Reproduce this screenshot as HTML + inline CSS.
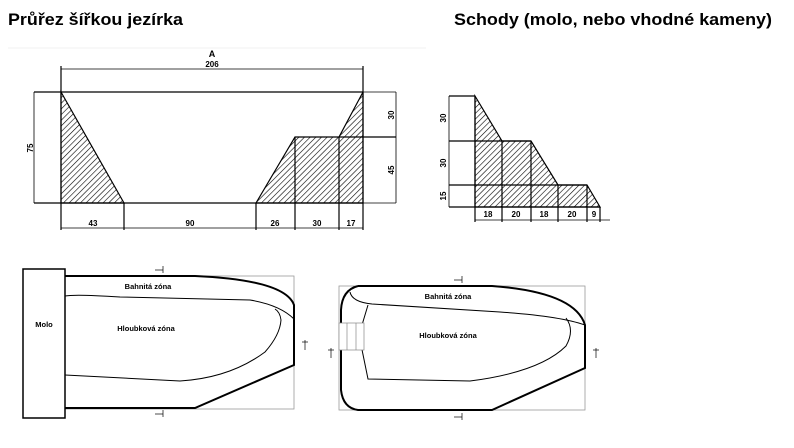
<!DOCTYPE html>
<html><head><meta charset="utf-8"><style>
html,body{margin:0;padding:0;background:#fff;width:794px;height:448px;overflow:hidden}
svg{display:block}
text{font-family:"Liberation Sans",sans-serif}
</style></head><body>
<svg width="794" height="448" viewBox="0 0 794 448" xmlns="http://www.w3.org/2000/svg">
<defs>
<pattern id="h" patternUnits="userSpaceOnUse" width="4" height="4" patternTransform="rotate(45)">
<line x1="0" y1="0" x2="0" y2="4" stroke="#000" stroke-width="1.2"/>
</pattern>
</defs>
<text x="8" y="25" font-size="17" font-weight="bold" textLength="175" lengthAdjust="spacingAndGlyphs">Průřez šířkou jezírka</text>
<text x="454" y="25" font-size="17" font-weight="bold" textLength="318" lengthAdjust="spacingAndGlyphs">Schody (molo, nebo vhodné kameny)</text>
<line x1="8" y1="48" x2="426" y2="48" stroke="#f0f0f0" stroke-width="1"/>

<!-- cross section -->
<g stroke="#000" stroke-width="1.2" fill="none">
<polygon points="61,92 61,203 124,203" fill="url(#h)"/>
<polygon points="256,203 295,137 339,137 363,92 363,203" fill="url(#h)"/>
<line x1="61" y1="92" x2="363" y2="92"/>
<line x1="34" y1="92" x2="61" y2="92"/>
<line x1="34" y1="203" x2="363" y2="203"/>
<line x1="339" y1="137" x2="396" y2="137"/>
<line x1="363" y1="92" x2="396" y2="92" stroke-width="0.7"/>
<line x1="363" y1="203" x2="396" y2="203" stroke-width="0.7"/>
<line x1="295" y1="137" x2="295" y2="230"/>
<line x1="339" y1="137" x2="339" y2="230"/>
<line x1="61" y1="66" x2="61" y2="230"/>
<line x1="363" y1="66" x2="363" y2="230"/>
<line x1="124" y1="203" x2="124" y2="230"/>
<line x1="256" y1="203" x2="256" y2="230"/>
<line x1="61" y1="69" x2="363" y2="69" stroke-width="0.8"/>
<line x1="61" y1="228" x2="363" y2="228" stroke-width="0.8"/>
<line x1="34" y1="92" x2="34" y2="203" stroke-width="0.8"/>
<line x1="396" y1="92" x2="396" y2="203" stroke-width="0.8"/>
</g>
<g font-size="8" text-anchor="middle" font-weight="bold">
<text x="212" y="57" font-size="9">A</text>
<text x="212" y="67">206</text>
<text x="93" y="226">43</text>
<text x="190" y="226">90</text>
<text x="275" y="226">26</text>
<text x="317" y="226">30</text>
<text x="351" y="226">17</text>
<text transform="translate(33,148) rotate(-90)">75</text>
<text transform="translate(394,115) rotate(-90)">30</text>
<text transform="translate(394,170) rotate(-90)">45</text>
</g>

<!-- stairs -->
<g stroke="#000" stroke-width="1.2" fill="none">
<polygon points="475,96 502,141 531,141 558,185 587,185 600,207 475,207" fill="url(#h)"/>
<line x1="449" y1="96" x2="475" y2="96"/>
<line x1="449" y1="141" x2="531" y2="141"/>
<line x1="449" y1="185" x2="587" y2="185"/>
<line x1="449" y1="207" x2="600" y2="207"/>
<line x1="449" y1="96" x2="449" y2="207" stroke-width="0.8"/>
<line x1="475" y1="96" x2="475" y2="222"/>
<line x1="502" y1="141" x2="502" y2="222"/>
<line x1="531" y1="141" x2="531" y2="222"/>
<line x1="558" y1="185" x2="558" y2="222"/>
<line x1="587" y1="185" x2="587" y2="222"/>
<line x1="600" y1="207" x2="600" y2="222"/>
<line x1="475" y1="220" x2="610" y2="220" stroke-width="0.8"/>
</g>
<g font-size="8" text-anchor="middle" font-weight="bold">
<text x="488" y="217">18</text>
<text x="516" y="217">20</text>
<text x="544" y="217">18</text>
<text x="572" y="217">20</text>
<text x="594" y="217">9</text>
<text transform="translate(446,118) rotate(-90)">30</text>
<text transform="translate(446,163) rotate(-90)">30</text>
<text transform="translate(446,196) rotate(-90)">15</text>
</g>

<!-- plan 1 -->
<g fill="none" stroke="#000">
<rect x="65" y="276" width="229" height="133" stroke="#999" stroke-width="0.8"/>
<rect x="23" y="269" width="42" height="149" stroke-width="1.5" fill="#fff"/>
<path d="M65,276 L195,276 Q285,280 294,305 L294,365 L195,408 L65,408" stroke-width="2"/>
<path d="M65,296 Q75,294 120,297 L250,300 Q280,305 294,319" stroke-width="1"/>
<path d="M65,375 L180,381 Q230,378 265,352 Q280,335 281,320 Q280,312 275,309" stroke-width="1"/>
<line x1="155" y1="270" x2="163" y2="270" stroke-width="0.7"/>
<line x1="163" y1="266" x2="163" y2="273" stroke-width="0.7"/>
<line x1="155" y1="414" x2="163" y2="414" stroke-width="0.7"/>
<line x1="163" y1="410" x2="163" y2="417" stroke-width="0.7"/>
<line x1="305" y1="340" x2="305" y2="350" stroke-width="0.7"/>
<line x1="302" y1="342" x2="308" y2="342" stroke-width="0.7"/>
</g>
<g font-size="7.5" font-weight="bold" text-anchor="middle">
<text x="44" y="327">Molo</text>
<text x="148" y="289">Bahnitá zóna</text>
<text x="146" y="331">Hloubková zóna</text>
</g>

<!-- plan 2 -->
<g fill="none" stroke="#000">
<rect x="339" y="286" width="246" height="124" stroke="#999" stroke-width="0.8"/>
<path d="M358,286 L492,286 Q575,292 585,325 L585,368 L492,410 L358,410 Q343,408 341,390 L341,310 Q342,290 358,286" stroke-width="2"/>
<path d="M350,292 Q352,302 372,304 Q400,306 500,312 Q560,316 585,325" stroke-width="1"/>
<path d="M368,305 L359,335 L368,379 L470,381 Q540,372 566,346 Q575,330 566,318" stroke-width="1"/>
<rect x="339" y="323" width="25" height="27" stroke="#888" stroke-width="0.7" fill="#fff"/>
<line x1="347" y1="323" x2="347" y2="350" stroke="#888" stroke-width="0.7"/>
<line x1="356" y1="323" x2="356" y2="350" stroke="#888" stroke-width="0.7"/>
<line x1="454" y1="280" x2="462" y2="280" stroke-width="0.7"/>
<line x1="462" y1="276" x2="462" y2="283" stroke-width="0.7"/>
<line x1="454" y1="417" x2="462" y2="417" stroke-width="0.7"/>
<line x1="462" y1="413" x2="462" y2="420" stroke-width="0.7"/>
<line x1="331" y1="348" x2="331" y2="358" stroke-width="0.7"/>
<line x1="328" y1="350" x2="334" y2="350" stroke-width="0.7"/>
<line x1="596" y1="348" x2="596" y2="358" stroke-width="0.7"/>
<line x1="593" y1="350" x2="599" y2="350" stroke-width="0.7"/>
</g>
<g font-size="7.5" font-weight="bold" text-anchor="middle">
<text x="448" y="299">Bahnitá zóna</text>
<text x="448" y="338">Hloubková zóna</text>
</g>
</svg>
</body></html>
